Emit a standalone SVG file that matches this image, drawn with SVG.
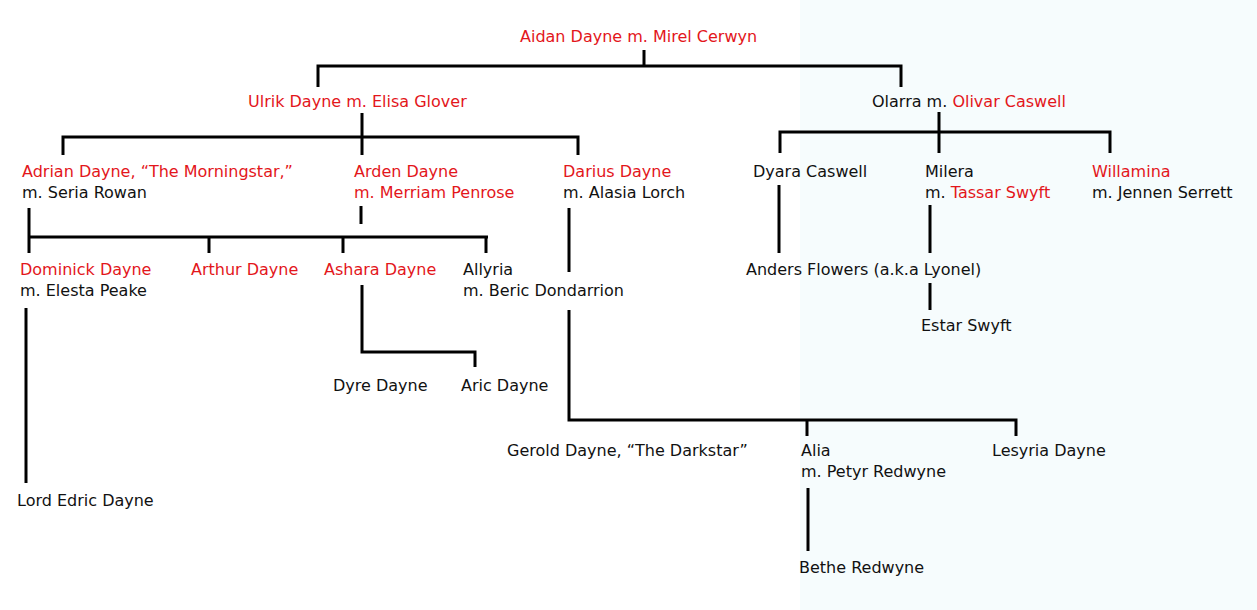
<svg xmlns="http://www.w3.org/2000/svg" width="1257" height="610" viewBox="0 0 1257 610">
<style>
text{font-family:"DejaVu Sans","Liberation Sans",sans-serif;font-size:16px;fill:#111}
.r{fill:#e3161b}
#connectors path{stroke:#000;stroke-width:3;fill:none}
</style>
<rect width="1257" height="610" fill="#fff"/>
<rect x="800" width="457" height="610" fill="#f6fcfd"/>
<g id="connectors">
<path d="M644 50V66M318 87V66H901V87"/>
<path d="M362 113V137M63 155V137H578V155M362 137V155"/>
<path d="M939 112V153M780 153V132H1110V153"/>
<path d="M361 206V224M29 208V253M29 237H488M209 237V253M343 237V253M486 237V253"/>
<path d="M26 308V483"/>
<path d="M362 285V352H475V367"/>
<path d="M569 208V272M569 310V420H1016V436M807 420V436"/>
<path d="M808 488V551"/>
<path d="M779 185V253"/>
<path d="M930 205V253M930 283V310"/>
</g>
<g id="n1"><text x="520" y="42" class="r">Aidan Dayne m. Mirel Cerwyn</text></g>
<g id="n2"><text x="248" y="107" class="r">Ulrik Dayne m. Elisa Glover</text></g>
<g id="n3"><text x="872" y="107">Olarra m. <tspan class="r">Olivar Caswell</tspan></text></g>
<g id="n4"><text x="22" y="177" class="r">Adrian Dayne, “The Morningstar,”</text><text x="22" y="198">m. Seria Rowan</text></g>
<g id="n5"><text x="354" y="177" class="r">Arden Dayne</text><text x="354" y="198" class="r">m. Merriam Penrose</text></g>
<g id="n6"><text x="563" y="177" class="r">Darius Dayne</text><text x="563" y="198">m. Alasia Lorch</text></g>
<g id="n7"><text x="753" y="177">Dyara Caswell</text></g>
<g id="n8"><text x="925" y="177">Milera</text><text x="925" y="198">m. <tspan class="r">Tassar Swyft</tspan></text></g>
<g id="n9"><text x="1092" y="177" class="r">Willamina</text><text x="1092" y="198">m. Jennen Serrett</text></g>
<g id="n10"><text x="20" y="275" class="r">Dominick Dayne</text><text x="20" y="296">m. Elesta Peake</text></g>
<g id="n11"><text x="191" y="275" class="r">Arthur Dayne</text></g>
<g id="n12"><text x="324" y="275" class="r">Ashara Dayne</text></g>
<g id="n13"><text x="463" y="275">Allyria</text><text x="463" y="296">m. Beric Dondarrion</text></g>
<g id="n14"><text x="746" y="275">Anders Flowers (a.k.a Lyonel)</text></g>
<g id="n15"><text x="921" y="331">Estar Swyft</text></g>
<g id="n16"><text x="333" y="391">Dyre Dayne</text></g>
<g id="n17"><text x="461" y="391">Aric Dayne</text></g>
<g id="n18"><text x="507" y="456">Gerold Dayne, “The Darkstar”</text></g>
<g id="n19"><text x="801" y="456">Alia</text><text x="801" y="477">m. Petyr Redwyne</text></g>
<g id="n20"><text x="992" y="456">Lesyria Dayne</text></g>
<g id="n21"><text x="17" y="506">Lord Edric Dayne</text></g>
<g id="n22"><text x="799" y="573">Bethe Redwyne</text></g>
</svg>
